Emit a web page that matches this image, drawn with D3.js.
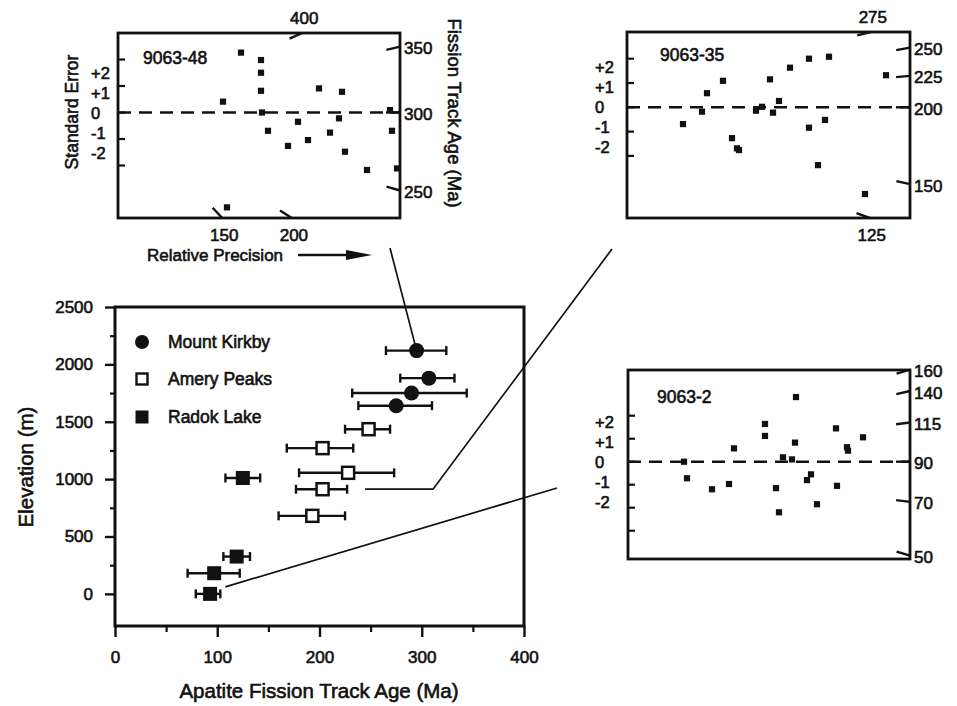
<!DOCTYPE html>
<html>
<head>
<meta charset="utf-8">
<script src="https://cdn.jsdelivr.net/npm/d3@7"></script>
<style>
  body { margin: 0; background: #fff; }
  svg text { font-family: "Liberation Sans", Arial, Helvetica, sans-serif; fill: #111; stroke: #111; stroke-width: 0.6px; }
</style>
</head>
<body>
<svg id="fig" width="957" height="706"></svg>
<script>
// ---------- Age–elevation data (apatite fission-track ages, Ma) ----------
const kirkbyAge  = [295, 307, 290, 275];
const kirkbyElev = [2120, 1880, 1750, 1640];
const kirkbyLow  = [265, 279, 232, 238];
const kirkbyHigh = [324, 332, 344, 310];

const ameryAge  = [248, 203, 228, 203, 193];
const ameryElev = [1435, 1270, 1055, 912, 680];
const ameryLow  = [225, 168, 180, 177, 160];
const ameryHigh = [269, 233, 273, 227, 225];

const radokAge  = [125, 119, 97, 93];
const radokElev = [1010, 325, 180, 0];
const radokLow  = [108, 106, 71, 79];
const radokHigh = [142, 132, 122, 103];

const ageTicks = [0, 100, 200, 300, 400];
const ageMinorTicks = [50, 150, 250, 350];
const elevTicks = [0, 500, 1000, 1500, 2000, 2500];
const elevMinorTicks = [250, 750, 1250, 1750, 2250];
const legendNames = ["Mount Kirkby", "Amery Peaks", "Radok Lake"];

// ---------- Radial plot data (relative precision, standardised estimate) ----------
const s48Precision = [9.9, 11.7, 13.7, 13.7, 13.7, 13.8, 14.4, 16.4, 17.4, 18.4, 19.5, 20.6, 21.5, 21.8, 22.1, 24.3, 26.6, 26.8, 27.3, 10.3];
const s48Se        = [0.41, 2.26, 1.98, 1.50, 0.82, 0.0, -0.69, -1.26, -0.35, -1.04, 0.91, -0.76, -0.22, 0.78, -1.48, -2.17, 0.09, -0.69, -2.11, -3.58];
const s48AgeTicks  = [400, 350, 300, 250, 200, 150];

const s35Precision = [11.3, 13.2, 13.7, 15.3, 16.2, 16.7, 16.9, 18.6, 19.2, 20.0, 20.3, 20.9, 22.0, 23.9, 23.9, 24.8, 25.5, 25.9, 29.5, 31.6];
const s35Se        = [-0.69, -0.18, 0.58, 1.09, -1.27, -1.69, -1.76, -0.14, 0.02, 1.15, -0.22, 0.26, 1.63, 2.00, -0.84, -2.38, -0.52, 2.08, -3.57, 1.32];
const s35AgeTicks  = [275, 250, 225, 200, 150, 125];

const s2Precision = [8.4, 8.7, 11.2, 12.9, 13.4, 16.5, 16.5, 17.6, 17.9, 18.3, 19.2, 19.5, 19.6, 20.7, 21.1, 21.7, 23.6, 23.7, 24.7, 24.8, 26.3];
const s2Se        = [0.0, -0.72, -1.2, -0.97, 0.58, 1.64, 1.12, -1.15, -2.2, 0.19, 0.1, 0.83, 2.81, -0.8, -0.55, -1.85, 1.45, -1.05, 0.63, 0.48, 1.06];
const s2AgeTicks  = [160, 140, 115, 90, 70, 50];

const seTicks = [2, 1, 0, -1, -2];
const seLabels = ["+2", "+1", "0", "-1", "-2"];

const svg = d3.select("#fig");
const INK = "#111";

// ================= Main panel =================
const x = d3.scaleLinear().domain([0, 400]).range([115, 524]);
const y = d3.scaleLinear().domain([-280, 2500]).range([626, 307]);
const main = svg.append("g");

// callout lines linking samples to their radial plots (drawn beneath the marks)
const callouts = main.append("g").attr("fill", "none").attr("stroke", INK).attr("stroke-width", 1.7);
callouts.append("line")
  .attr("x1", 390).attr("y1", 248)
  .attr("x2", x(kirkbyAge[0])).attr("y2", y(kirkbyElev[0]));
callouts.append("polyline")
  .attr("points", [[x(ameryHigh[3]) + 18, y(ameryElev[3])], [433, y(ameryElev[3])], [612, 249]].map(p => p.join(",")).join(" "));
callouts.append("line")
  .attr("x1", x(radokHigh[3]) + 5).attr("y1", y(radokElev[3]) - 7)
  .attr("x2", 557).attr("y2", 488);

// frame
main.append("rect")
  .attr("x", x(0)).attr("y", y(2500))
  .attr("width", x(400) - x(0)).attr("height", y(-280) - y(2500))
  .attr("fill", "none").attr("stroke", INK).attr("stroke-width", 3);

// x axis
const xAxis = d3.axisBottom(x).tickValues(ageTicks).tickSize(11).tickPadding(14).tickFormat(d3.format("d"));
const gx = main.append("g").attr("transform", `translate(0,${y(-280)})`).call(xAxis);
gx.select(".domain").remove();
gx.selectAll(".tick line").attr("stroke", INK).attr("stroke-width", 2.4);
gx.selectAll(".tick text").attr("font-size", 17);
const gxm = main.append("g").attr("transform", `translate(0,${y(-280)})`)
  .call(d3.axisBottom(x).tickValues(ageMinorTicks).tickSize(6).tickFormat(""));
gxm.select(".domain").remove();
gxm.selectAll(".tick line").attr("stroke", INK).attr("stroke-width", 2.2);

// y axis
const yAxis = d3.axisLeft(y).tickValues(elevTicks).tickSize(10).tickPadding(12).tickFormat(d3.format("d"));
const gy = main.append("g").attr("transform", `translate(${x(0)},0)`).call(yAxis);
gy.select(".domain").remove();
gy.selectAll(".tick line").attr("stroke", INK).attr("stroke-width", 2.4);
gy.selectAll(".tick text").attr("font-size", 17);
const gym = main.append("g").attr("transform", `translate(${x(0)},0)`)
  .call(d3.axisLeft(y).tickValues(elevMinorTicks).tickSize(5).tickFormat(""));
gym.select(".domain").remove();
gym.selectAll(".tick line").attr("stroke", INK).attr("stroke-width", 2.2);

// axis titles
main.append("text").attr("x", 319).attr("y", 690).attr("text-anchor", "middle")
  .attr("dominant-baseline", "central").attr("font-size", 20.5)
  .text("Apatite Fission Track Age (Ma)");
main.append("text").attr("transform", "translate(25,467) rotate(-90)").attr("text-anchor", "middle")
  .attr("dominant-baseline", "central").attr("font-size", 20.5)
  .text("Elevation (m)");

// error bars and markers
function errorBars(age, elev, low, high) {
  const g = main.append("g").attr("stroke", INK).attr("stroke-width", 2.4);
  elev.forEach((e, i) => {
    g.append("line").attr("x1", x(low[i])).attr("x2", x(high[i])).attr("y1", y(e)).attr("y2", y(e));
    [low[i], high[i]].forEach(v =>
      g.append("line").attr("x1", x(v)).attr("x2", x(v)).attr("y1", y(e) - 4.5).attr("y2", y(e) + 4.5));
  });
}
errorBars(kirkbyAge, kirkbyElev, kirkbyLow, kirkbyHigh);
errorBars(ameryAge, ameryElev, ameryLow, ameryHigh);
errorBars(radokAge, radokElev, radokLow, radokHigh);

main.append("g").selectAll("circle").data(kirkbyAge).join("circle")
  .attr("cx", d => x(d)).attr("cy", (d, i) => y(kirkbyElev[i])).attr("r", 7.5).attr("fill", INK);
main.append("g").selectAll("rect").data(ameryAge).join("rect")
  .attr("x", d => x(d) - 6).attr("y", (d, i) => y(ameryElev[i]) - 6)
  .attr("width", 12).attr("height", 12).attr("fill", "#fff").attr("stroke", INK).attr("stroke-width", 2.5);
main.append("g").selectAll("rect").data(radokAge).join("rect")
  .attr("x", d => x(d) - 7).attr("y", (d, i) => y(radokElev[i]) - 7)
  .attr("width", 14).attr("height", 14).attr("fill", INK);

// legend
const legend = main.append("g");
const legY = [342, 379, 417];
legend.append("circle").attr("cx", 142).attr("cy", legY[0]).attr("r", 7).attr("fill", INK);
legend.append("rect").attr("x", 136.5).attr("y", legY[1] - 5.5).attr("width", 11).attr("height", 11)
  .attr("fill", "#fff").attr("stroke", INK).attr("stroke-width", 2.4);
legend.append("rect").attr("x", 135.5).attr("y", legY[2] - 6.5).attr("width", 13).attr("height", 13).attr("fill", INK);
legend.selectAll("text").data(legendNames).join("text")
  .attr("x", 168).attr("y", (d, i) => legY[i]).attr("dominant-baseline", "central")
  .attr("font-size", 17.5).text(d => d);

// ================= Radial plots =================
function radialPlot(cfg) {
  const { L, R, T, B } = cfg.box;
  const g = svg.append("g");
  const px = d3.scaleLinear().domain([0, cfg.precisionMax]).range([cfg.ox, R]);
  const py = d3.scaleLinear().domain([0, 1]).range([cfg.zeroY, cfg.zeroY - cfg.seStep]);

  g.append("rect").attr("x", L).attr("y", T).attr("width", R - L).attr("height", B - T)
    .attr("fill", "none").attr("stroke", INK).attr("stroke-width", 2.8);

  // standard-error ticks on the left edge
  g.append("g").selectAll("line").data(cfg.seTickValues).join("line")
    .attr("x1", L).attr("x2", L + 7).attr("y1", d => py(d)).attr("y2", d => py(d))
    .attr("stroke", INK).attr("stroke-width", 2.2);
  g.append("g").selectAll("text").data(seTicks).join("text")
    .attr("x", cfg.labelX).attr("y", (d, i) => cfg.zeroY - d * 20)
    .attr("dominant-baseline", "central").attr("font-size", 16.5)
    .text((d, i) => seLabels[i]);

  // zero line
  g.append("line").attr("x1", L).attr("x2", R).attr("y1", py(0)).attr("y2", py(0))
    .attr("stroke", INK).attr("stroke-width", 2.4).attr("stroke-dasharray", "13,8");

  // radial age scale: each age is a line through the origin, ticked where it meets the frame
  const ticks = cfg.ageTicks.map(age => {
    const s = -cfg.slope * Math.log(age / cfg.central);
    const yR = cfg.zeroY + s * (R - cfg.ox);
    let tx, ty, side;
    if (yR >= T - 2 && yR <= B + 2) { tx = R; ty = yR; side = "right"; }
    else if (yR < T) { ty = T; tx = cfg.ox + (T - cfg.zeroY) / s; side = "top"; }
    else { ty = B; tx = cfg.ox + (B - cfg.zeroY) / s; side = "bottom"; }
    const n = Math.hypot(1, s);
    return { age, tx, ty, side, ix: tx - 14 / n, iy: ty - 14 * s / n };
  });
  g.append("g").selectAll("line").data(ticks).join("line")
    .attr("x1", d => d.tx).attr("y1", d => d.ty).attr("x2", d => d.ix).attr("y2", d => d.iy)
    .attr("stroke", INK).attr("stroke-width", 2.4);
  g.append("g").selectAll("text").data(ticks).join("text")
    .attr("x", d => d.side === "right" ? R + 4 : d.tx + 2)
    .attr("y", d => d.side === "right" ? d.ty + 2 : d.side === "top" ? T - 15 : B + 17)
    .attr("text-anchor", d => d.side === "right" ? "start" : "middle")
    .attr("dominant-baseline", "central").attr("font-size", 17)
    .text(d => d.age);

  // grains
  g.append("g").selectAll("rect").data(cfg.precision).join("rect")
    .attr("x", d => px(d) - 3.1).attr("y", (d, i) => py(cfg.se[i]) - 3.1)
    .attr("width", 6.2).attr("height", 6.2).attr("fill", INK);

  g.append("text").attr("x", cfg.nameX).attr("y", cfg.nameY)
    .attr("dominant-baseline", "central").attr("font-size", 17.5).text(cfg.name);
  return g;
}

const p48 = radialPlot({
  name: "9063-48", nameX: 143, nameY: 58,
  box: { L: 118, R: 400, T: 33, B: 218 },
  ox: 124, zeroY: 112.5, seStep: 26.5, precisionMax: 27.6,
  central: 300, slope: 1.55, labelX: 91,
  seTickValues: [2, 1, 0, -1, -2],
  precision: s48Precision, se: s48Se, ageTicks: s48AgeTicks
});
const p35 = radialPlot({
  name: "9063-35", nameX: 660, nameY: 55,
  box: { L: 627, R: 910, T: 32, B: 218 },
  ox: 570, zeroY: 107.3, seStep: 24.3, precisionMax: 34,
  central: 200, slope: 0.786, labelX: 595,
  seTickValues: [2, 1, 0, -1, -2],
  precision: s35Precision, se: s35Se, ageTicks: s35AgeTicks
});
const p2 = radialPlot({
  name: "9063-2", nameX: 657, nameY: 397,
  box: { L: 628, R: 910, T: 370, B: 559 },
  ox: 600, zeroY: 461.7, seStep: 23, precisionMax: 31,
  central: 90, slope: 0.516, labelX: 595,
  seTickValues: [2, 1, 0, -1, -2, -3],
  precision: s2Precision, se: s2Se, ageTicks: s2AgeTicks
});

// axis captions of the top-left radial plot
svg.append("text").attr("transform", "translate(72,112) rotate(-90)").attr("text-anchor", "middle")
  .attr("dominant-baseline", "central").attr("font-size", 17.5).text("Standard Error");
svg.append("text").attr("transform", "translate(454,113) rotate(90)").attr("text-anchor", "middle")
  .attr("dominant-baseline", "central").attr("font-size", 18.5).text("Fission Track Age (Ma)");
svg.append("text").attr("x", 147).attr("y", 255).attr("dominant-baseline", "central")
  .attr("font-size", 17).text("Relative Precision");
svg.append("line").attr("x1", 298).attr("x2", 350).attr("y1", 255).attr("y2", 255)
  .attr("stroke", INK).attr("stroke-width", 2.4);
svg.append("path").attr("d", "M346,250 L372,255 L346,260 Z").attr("fill", INK);
</script>
</body>
</html>
